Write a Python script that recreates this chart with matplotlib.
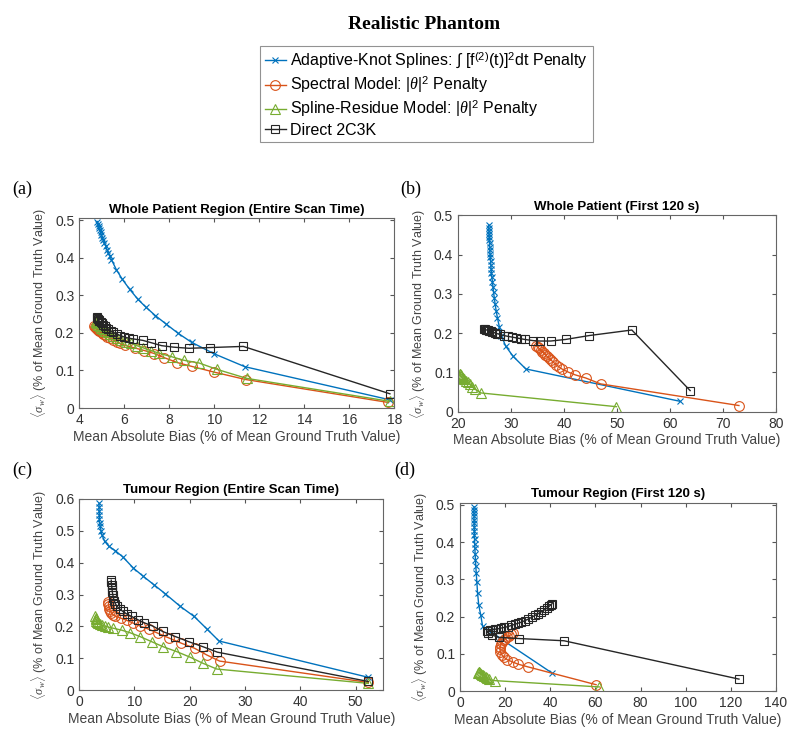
import matplotlib
matplotlib.use("Agg")
import matplotlib.pyplot as plt

# ---- data (x = mean abs bias %, y = <sigma_w>) ----
# (a) Whole Patient Region (Entire Scan Time)
aks_a_x = [4.81, 4.83, 4.86, 4.89, 4.92, 4.95, 4.99, 5.03, 5.07, 5.12, 5.18, 5.24, 5.30, 5.36, 5.43,
           5.65, 5.92, 6.24, 6.61, 6.97, 7.38, 7.85, 8.39, 8.99, 9.97, 11.36, 17.8]
aks_a_y = [0.496, 0.490, 0.484, 0.478, 0.474, 0.467, 0.460, 0.453, 0.447, 0.440, 0.430, 0.421, 0.412,
           0.404, 0.395, 0.368, 0.342, 0.316, 0.289, 0.268, 0.246, 0.224, 0.199, 0.175, 0.145, 0.110, 0.022]
spec_a_x = [4.67, 4.70, 4.74, 4.78, 4.83, 4.89, 4.96, 5.04, 5.14, 5.25, 5.37, 5.50, 5.66, 5.83, 6.02,
            6.46, 6.90, 7.34, 7.78, 8.36, 8.99, 9.97, 11.39, 17.73]
spec_a_y = [0.219, 0.216, 0.213, 0.210, 0.207, 0.204, 0.201, 0.198, 0.194, 0.190, 0.186, 0.182, 0.177,
            0.172, 0.167, 0.160, 0.153, 0.145, 0.134, 0.121, 0.111, 0.096, 0.076, 0.015]
sres_a_x = [4.73, 4.76, 4.80, 4.85, 4.91, 4.98, 5.06, 5.15, 5.26, 5.38, 5.52, 5.68, 5.86, 6.06, 6.30,
            6.56, 6.85, 7.18, 7.55, 8.14, 8.66, 9.32, 10.12, 11.44, 17.8]
sres_a_y = [0.232, 0.229, 0.226, 0.222, 0.218, 0.214, 0.210, 0.206, 0.201, 0.197, 0.192, 0.187, 0.182,
            0.177, 0.172, 0.166, 0.160, 0.153, 0.146, 0.136, 0.127, 0.120, 0.103, 0.079, 0.018]
d2c_a_x = [4.78, 4.80, 4.83, 4.86, 4.90, 4.95, 5.00, 5.06, 5.13, 5.21, 5.30, 5.40, 5.52, 5.66, 5.82,
           6.00, 6.20, 6.39, 6.83, 7.19, 7.66, 8.19, 8.88, 9.83, 11.29, 17.8]
d2c_a_y = [0.243, 0.240, 0.237, 0.234, 0.231, 0.228, 0.225, 0.221, 0.217, 0.213, 0.209, 0.205, 0.201,
           0.197, 0.193, 0.189, 0.186, 0.184, 0.180, 0.174, 0.166, 0.162, 0.159, 0.161, 0.164, 0.038]

# (b) Whole Patient (First 120 s)
aks_b_x = [25.8, 25.8, 25.85, 25.85, 25.9, 25.9, 25.95, 26.0, 26.0, 26.05, 26.1, 26.15, 26.2, 26.25,
           26.3, 26.4, 26.5, 26.6, 26.7, 26.85, 27.0, 27.2, 27.45, 27.8, 28.2, 29.0, 30.4, 32.8, 61.8]
aks_b_y = [0.476, 0.468, 0.460, 0.452, 0.444, 0.436, 0.428, 0.420, 0.411, 0.402, 0.393, 0.384, 0.374,
           0.364, 0.353, 0.342, 0.330, 0.318, 0.305, 0.290, 0.274, 0.257, 0.238, 0.216, 0.193, 0.167,
           0.141, 0.109, 0.027]
spec_b_x = [34.8, 35.0, 35.3, 35.6, 35.9, 36.2, 36.5, 36.8, 37.2, 37.6, 38.0, 38.5, 39.0, 39.6, 40.8,
            42.1, 44.1, 46.9, 73.0]
spec_b_y = [0.167, 0.165, 0.161, 0.157, 0.153, 0.149, 0.145, 0.141, 0.136, 0.131, 0.126, 0.120, 0.115,
            0.109, 0.101, 0.094, 0.086, 0.071, 0.016]
sres_b_x = [20.3, 20.4, 20.5, 20.6, 20.8, 21.0, 21.2, 21.5, 21.8, 22.2, 22.7, 23.3, 24.3, 49.9]
sres_b_y = [0.097, 0.095, 0.093, 0.091, 0.089, 0.086, 0.083, 0.079, 0.075, 0.070, 0.064, 0.057, 0.048, 0.013]
d2c_b_x = [24.9, 25.0, 25.2, 25.4, 25.6, 25.9, 26.2, 26.5, 26.9, 27.3, 27.9, 28.6, 29.4, 30.2, 31.0,
           31.8, 32.6, 34.2, 35.5, 37.5, 40.3, 44.8, 52.8, 63.8]
d2c_b_y = [0.211, 0.210, 0.209, 0.208, 0.207, 0.206, 0.205, 0.203, 0.201, 0.199, 0.197, 0.194, 0.192,
           0.190, 0.188, 0.186, 0.184, 0.181, 0.180, 0.180, 0.184, 0.194, 0.208, 0.054]

# (c) Tumour Region (Entire Scan Time)
aks_c_x = [3.6, 3.6, 3.6, 3.65, 3.65, 3.7, 3.8, 3.95, 4.1, 4.6, 5.4, 6.5, 7.9, 9.8, 11.6, 13.5, 15.6,
           18.2, 20.8, 23.1, 25.3, 52.3]
aks_c_y = [0.586, 0.575, 0.563, 0.550, 0.538, 0.526, 0.514, 0.501, 0.488, 0.467, 0.451, 0.438, 0.418,
           0.383, 0.357, 0.331, 0.302, 0.264, 0.231, 0.192, 0.154, 0.040]
spec_c_x = [5.3, 5.3, 5.35, 5.45, 5.6, 5.8, 6.1, 6.5, 7.5, 8.6, 9.8, 11.0, 12.6, 14.3, 16.3, 18.5, 20.9,
            23.1, 25.4, 52.3]
spec_c_y = [0.278, 0.270, 0.263, 0.256, 0.249, 0.243, 0.237, 0.232, 0.226, 0.219, 0.210, 0.201, 0.191,
            0.178, 0.163, 0.147, 0.131, 0.110, 0.091, 0.024]
sres_c_x = [2.9, 2.95, 3.0, 3.1, 3.25, 3.45, 3.7, 4.1, 4.6, 5.2, 6.2, 7.7, 9.2, 11.0, 13.1, 15.2, 17.6,
            20.1, 22.4, 24.9, 52.3]
sres_c_y = [0.231, 0.226, 0.222, 0.218, 0.214, 0.210, 0.207, 0.204, 0.201, 0.198, 0.194, 0.188, 0.180,
            0.168, 0.152, 0.136, 0.121, 0.103, 0.084, 0.066, 0.021]
d2c_c_x = [5.8, 5.8, 5.85, 5.9, 5.95, 6.0, 6.1, 6.2, 6.35, 6.55, 6.85, 7.3, 7.9, 8.6, 9.5, 10.6, 11.8,
           13.3, 15.1, 17.4, 19.8, 22.4, 25.0, 52.3]
d2c_c_y = [0.345, 0.338, 0.331, 0.323, 0.315, 0.307, 0.298, 0.289, 0.280, 0.271, 0.263, 0.255, 0.247,
           0.239, 0.231, 0.221, 0.211, 0.201, 0.184, 0.168, 0.152, 0.136, 0.119, 0.027]

# (d) Tumour Region (First 120 s)
aks_d_x = [6.2, 6.2, 6.2, 6.25, 6.25, 6.3, 6.3, 6.35, 6.4, 6.45, 6.5, 6.6, 6.7, 6.85, 7.0, 7.2, 7.45,
           7.8, 8.3, 9.2, 10.0, 13.6, 17.4, 40.6]
aks_d_y = [0.495, 0.487, 0.478, 0.469, 0.460, 0.450, 0.440, 0.430, 0.419, 0.408, 0.396, 0.383, 0.369,
           0.353, 0.336, 0.317, 0.294, 0.262, 0.231, 0.204, 0.174, 0.160, 0.143, 0.049]
spec_d_x = [60.3, 30.0, 25.8, 23.3, 21.0, 19.4, 18.4, 17.9, 17.7, 17.8, 18.1, 18.6, 19.3, 20.1, 21.0,
            21.9, 22.8, 23.6]
spec_d_y = [0.017, 0.065, 0.072, 0.078, 0.084, 0.091, 0.098, 0.105, 0.112, 0.119, 0.125, 0.131, 0.136,
            0.141, 0.145, 0.149, 0.152, 0.155]
sres_d_x = [8.0, 8.2, 8.5, 8.9, 9.3, 9.8, 10.3, 10.8, 11.4, 12.0, 12.8, 15.3, 61.7]
sres_d_y = [0.048, 0.051, 0.050, 0.048, 0.046, 0.044, 0.042, 0.040, 0.037, 0.034, 0.031, 0.028, 0.011]
d2c_d_x = [123.6, 46.1, 26.1, 17.4, 14.3, 12.2, 12.0, 12.5, 13.3, 14.3, 15.5, 16.8, 18.2, 19.7, 21.2,
           22.7, 24.2, 25.7, 27.2, 28.7, 30.2, 31.7, 33.2, 34.7, 36.1, 37.4, 38.6, 39.6, 40.4, 40.8]
d2c_d_y = [0.032, 0.135, 0.141, 0.144, 0.150, 0.157, 0.160, 0.162, 0.163, 0.165, 0.166, 0.167, 0.169,
           0.171, 0.173, 0.176, 0.179, 0.182, 0.185, 0.189, 0.193, 0.198, 0.203, 0.208, 0.213, 0.218,
           0.223, 0.228, 0.232, 0.235]

labels = [r'Adaptive-Knot Splines: $\int$ [f$^{(2)}$(t)]$^2$dt Penalty',
          r'Spectral Model: $|\theta|^2$ Penalty',
          r'Spline-Residue Model: $|\theta|^2$ Penalty',
          'Direct 2C3K']
colors = ['#0072BD', '#D95319', '#77AC30', '#262626']
markers = ['x', 'o', '^', 's']
msizes = [5, 7, 6.5, 6]

panels = [
    ('(a)', 'Whole Patient Region (Entire Scan Time)', [0.099, 0.450, 0.394, 0.256],
     (4, 18), (0, 0.505), [4, 6, 8, 10, 12, 14, 16, 18], [0, 0.1, 0.2, 0.3, 0.4, 0.5],
     [(aks_a_x, aks_a_y), (spec_a_x, spec_a_y), (sres_a_x, sres_a_y), (d2c_a_x, d2c_a_y)]),
    ('(b)', 'Whole Patient (First 120 s)', [0.5725, 0.445, 0.3975, 0.265],
     (20, 80), (0, 0.5), [20, 30, 40, 50, 60, 70, 80], [0, 0.1, 0.2, 0.3, 0.4, 0.5],
     [(aks_b_x, aks_b_y), (spec_b_x, spec_b_y), (sres_b_x, sres_b_y), (d2c_b_x, d2c_b_y)]),
    ('(c)', 'Tumour Region (Entire Scan Time)', [0.099, 0.070, 0.380, 0.2575],
     (0, 55), (0, 0.6), [0, 10, 20, 30, 40, 50], [0, 0.1, 0.2, 0.3, 0.4, 0.5, 0.6],
     [(aks_c_x, aks_c_y), (spec_c_x, spec_c_y), (sres_c_x, sres_c_y), (d2c_c_x, d2c_c_y)]),
    ('(d)', 'Tumour Region (First 120 s)', [0.575, 0.0687, 0.395, 0.2534],
     (0, 140), (0, 0.505), [0, 20, 40, 60, 80, 100, 120, 140], [0, 0.1, 0.2, 0.3, 0.4, 0.5],
     [(aks_d_x, aks_d_y), (spec_d_x, spec_d_y), (sres_d_x, sres_d_y), (d2c_d_x, d2c_d_y)]),
]

plt.rcParams['font.family'] = ['Liberation Sans', 'DejaVu Sans']
plt.rcParams['mathtext.fontset'] = 'custom'
plt.rcParams['mathtext.rm'] = 'Liberation Sans'
plt.rcParams['mathtext.it'] = 'Liberation Serif:italic'

fig = plt.figure(figsize=(8, 7.42), dpi=100)

handles = []
for tag, title, rect, xl, yl, xt, yt, series in panels:
    ax = fig.add_axes(rect)
    for i, (xs, ys) in enumerate(series):
        h, = ax.plot(xs, ys, color=colors[i], marker=markers[i], markersize=msizes[i],
                     markerfacecolor='none', markeredgewidth=0.8, linewidth=1.0, label=labels[i])
        if tag == '(a)':
            handles.append(h)
    ax.set_xlim(*xl)
    ax.set_ylim(*yl)
    ax.set_xticks(xt)
    ax.set_yticks(yt)
    ax.set_yticklabels([('%g' % v) for v in yt])
    ax.tick_params(direction='in', top=True, right=True, labelsize=10, colors='#555555',
                   labelcolor='#333333', length=3)
    for sp in ax.spines.values():
        sp.set_color('#666666')
        sp.set_linewidth(0.8)
    ax.set_title(title, fontsize=9.5, fontweight='bold', pad=4)
    ax.set_xlabel('Mean Absolute Bias (% of Mean Ground Truth Value)', fontsize=10, color='#444444',
                  labelpad=2)
    ax.set_ylabel(r'$\langle\sigma_w\rangle$ (% of Mean Ground Truth Value)', fontsize=9,
                  color='#444444', labelpad=4)

# panel letters
fig.text(0.015, 0.738, '(a)', fontsize=13, family='Liberation Serif')
fig.text(0.500, 0.738, '(b)', fontsize=13, family='Liberation Serif')
fig.text(0.015, 0.360, '(c)', fontsize=13, family='Liberation Serif')
fig.text(0.493, 0.360, '(d)', fontsize=13, family='Liberation Serif')

fig.text(0.53, 0.967, 'Realistic Phantom', ha='center', va='center', fontsize=14,
         fontweight='bold', family='Liberation Serif')

leg = fig.legend(handles=handles, loc='upper left', bbox_to_anchor=(0.325, 0.938),
                 borderaxespad=0, fontsize=11.5, frameon=True, fancybox=False, handlelength=1.3,
                 handletextpad=0.3, borderpad=0.3, labelspacing=0.2, edgecolor='#777777')
leg.get_frame().set_linewidth(0.8)

fig.savefig('out.png', dpi=100)
